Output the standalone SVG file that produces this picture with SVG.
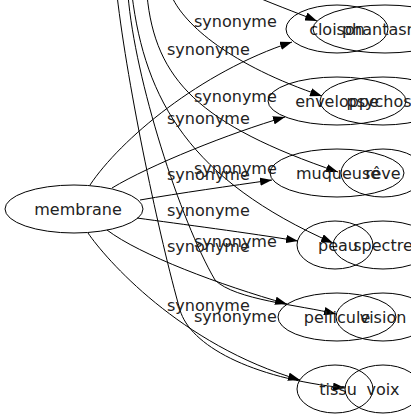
<svg xmlns="http://www.w3.org/2000/svg" width="411" height="419" viewBox="0 0 411 419">
<defs>
<marker id="arr" viewBox="0 0 10 7" markerWidth="12" markerHeight="8.4" refX="10" refY="3.5" orient="auto" markerUnits="userSpaceOnUse">
<path d="M0,0 L10,3.5 L0,7 z" fill="#000"/>
</marker>
<style>
.n ellipse{fill:none;stroke:#000;stroke-width:1}
.n text{font-family:"DejaVu Sans",Verdana,sans-serif;font-size:16px;fill:#222;text-anchor:middle}
.e path{fill:none;stroke:#000;stroke-width:1;marker-end:url(#arr)}
.e text{font-family:"DejaVu Sans",Verdana,sans-serif;font-size:16px;fill:#222}
</style>
</defs>
<rect width="411" height="419" fill="#fff"/>
<g class="e" id="connectors">
<path d="M90,185 C120,140 200,72 292,42"/>
<path d="M112,188 C150,165 230,133 285,117"/>
<path d="M140,200 C180,193 230,186 272,180"/>
<path d="M137,218 C180,224 250,233 298,241"/>
<path d="M107,230 C140,255 220,285 287,304"/>
<path d="M88,233 C105,258 180,345 300,380"/>
<path d="M245,-8 C270,3 295,12 317,21"/>
<path d="M172,-3 C185,25 230,65 322,96"/>
<path d="M147,-5 C155,80 200,125 338,172"/>
<path d="M132,-5 C145,100 190,180 333,243"/>
<path d="M128,-5 C135,80 180,220 215,280 C235,300 300,305 336,314"/>
<path d="M117,-5 C128,90 160,240 180,310 C190,345 250,378 345,388"/>
<text x="194" y="27">synonyme</text>
<text x="167" y="55">synonyme</text>
<text x="194" y="102">synonyme</text>
<text x="167" y="124">synonyme</text>
<text x="194" y="174">synonyme</text>
<text x="167" y="180">synonyme</text>
<text x="167" y="216">synonyme</text>
<text x="194" y="247">synonyme</text>
<text x="167" y="252">synonyme</text>
<text x="167" y="311">synonyme</text>
<text x="194" y="322">synonyme</text>
</g>
<g class="n" id="membrane"><ellipse cx="74" cy="209" rx="69" ry="24"/><text x="78" y="215">membrane</text></g>
<g class="n" id="cloison"><ellipse cx="337" cy="29" rx="51" ry="24"/><text x="337" y="35">cloison</text></g>
<g class="n" id="phantasme"><ellipse cx="385" cy="29" rx="72" ry="24"/><text x="387" y="35">phantasme</text></g>
<g class="n" id="enveloppe"><ellipse cx="337" cy="101" rx="69" ry="24"/><text x="337" y="107">enveloppe</text></g>
<g class="n" id="psychose"><ellipse cx="383" cy="101" rx="63" ry="24"/><text x="384" y="107">psychose</text></g>
<g class="n" id="muqueuse"><ellipse cx="337" cy="173" rx="67" ry="24"/><text x="338" y="179">muqueuse</text></g>
<g class="n" id="reve"><ellipse cx="383" cy="173" rx="42" ry="24"/><text x="383" y="179">rêve</text></g>
<g class="n" id="peau"><ellipse cx="335" cy="245" rx="38" ry="24"/><text x="338" y="251">peau</text></g>
<g class="n" id="spectre"><ellipse cx="383" cy="245" rx="50" ry="24"/><text x="383" y="251">spectre</text></g>
<g class="n" id="pellicule"><ellipse cx="337" cy="317" rx="59" ry="24"/><text x="337" y="323">pellicule</text></g>
<g class="n" id="vision"><ellipse cx="383" cy="317" rx="47" ry="24"/><text x="383" y="323">vision</text></g>
<g class="n" id="tissu"><ellipse cx="335" cy="389" rx="38" ry="24"/><text x="338" y="395">tissu</text></g>
<g class="n" id="voix"><ellipse cx="383" cy="389" rx="38" ry="24"/><text x="383" y="395">voix</text></g>
</svg>
